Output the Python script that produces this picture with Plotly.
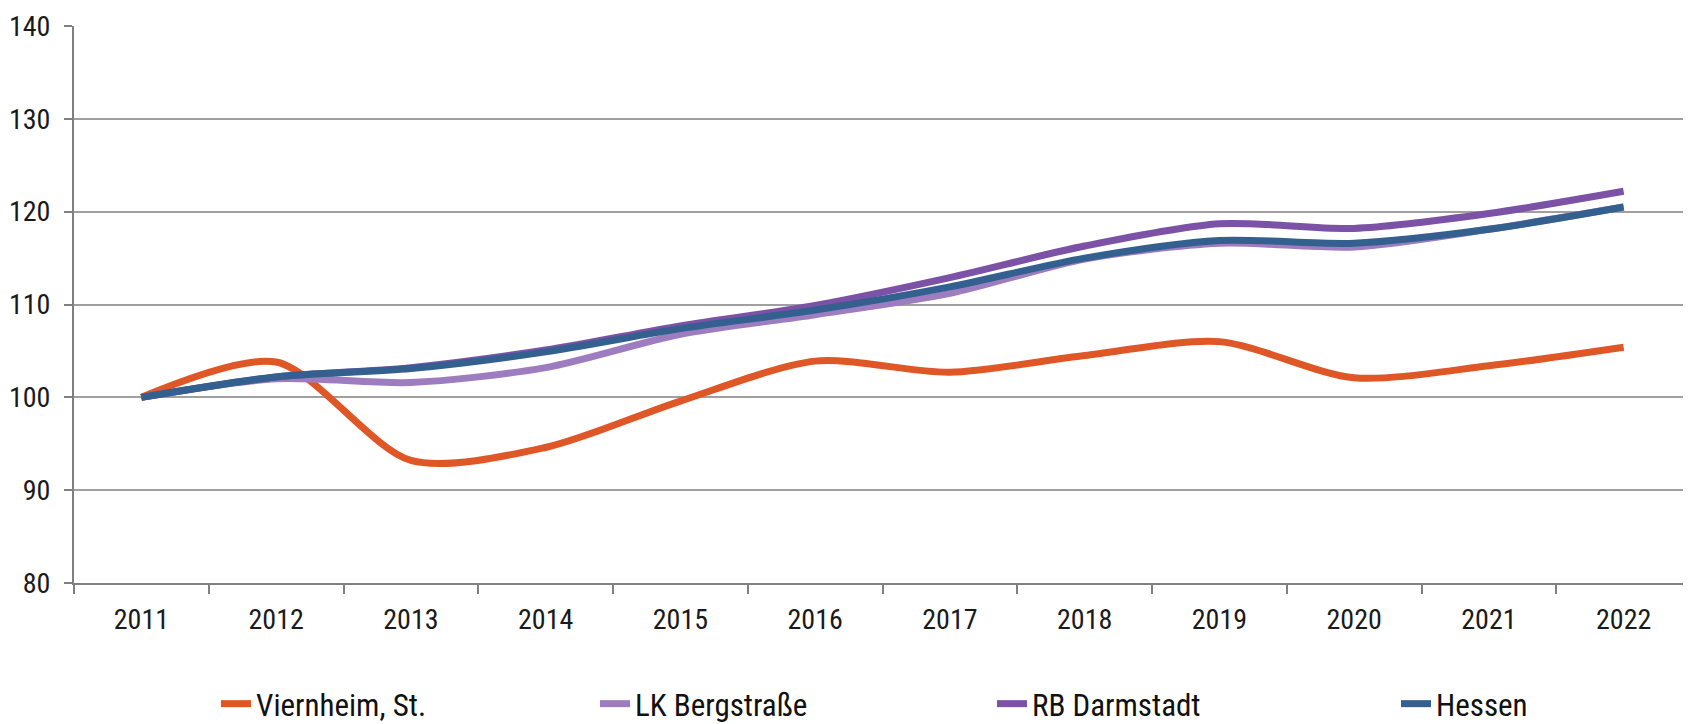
import plotly.graph_objects as go

years = ["2011", "2012", "2013", "2014", "2015", "2016", "2017", "2018", "2019", "2020", "2021", "2022"]
viernheim = [100.0, 103.8, 93.2, 94.6, 99.6, 103.9, 102.7, 104.5, 106.0, 102.1, 103.4, 105.4]
lk_bergstrasse = [100.0, 102.0, 101.6, 103.2, 106.8, 108.9, 111.2, 114.9, 116.6, 116.2, 118.1, 120.5]
rb_darmstadt = [100.0, 102.2, 103.2, 105.1, 107.7, 109.9, 112.9, 116.3, 118.7, 118.2, 119.8, 122.2]
hessen = [100.0, 102.2, 103.1, 104.9, 107.4, 109.4, 111.9, 115.0, 116.9, 116.6, 118.1, 120.5]

series_names = ["Viernheim, St.", "LK Bergstraße", "RB Darmstadt", "Hessen"]
series_values = [viernheim, lk_bergstrasse, rb_darmstadt, hessen]
colors = ["#DF5726", "#9D7DBF", "#7B52A6", "#34608F"]

y_ticks = [80, 90, 100, 110, 120, 130, 140]

FONT = "Liberation Sans Narrow, Arial Narrow, Roboto Condensed, Liberation Sans, Arial, sans-serif"

W, H = 1683, 716  # page body has an 8px margin

legend_ids = ["legend", "legend2", "legend3", "legend4"]
legend_x_px = [208, 587, 984, 1388]

fig = go.Figure()
for name, vals, col, lid in zip(series_names, series_values, colors, legend_ids):
    fig.add_trace(go.Scatter(
        x=years, y=vals, name=name, mode="lines", legend=lid,
        line=dict(color=col, width=7, shape="spline", smoothing=0.8),
    ))

legend_common = dict(
    orientation="h", xref="container", yref="container",
    xanchor="left", y=1 - 696 / H, yanchor="middle",
    font=dict(family=FONT, size=31, color="#111111"),
    itemwidth=30, bgcolor="rgba(0,0,0,0)",
)

layout_legends = {}
for lid, xp in zip(legend_ids, legend_x_px):
    layout_legends[lid] = dict(legend_common, x=xp / W)

fig.update_layout(
    width=W, height=H,
    margin=dict(l=66, r=0, t=18, b=141),
    paper_bgcolor="white", plot_bgcolor="white",
    font=dict(family=FONT, size=28, color="#1a1a1a"),
    showlegend=True,
    xaxis=dict(
        type="category", range=[-0.5, 11.5], tickson="boundaries",
        ticks="outside", ticklen=9, tickwidth=2, tickcolor="#808080",
        showline=True, linecolor="#808080", linewidth=2,
        showgrid=False, ticklabelstandoff=10,
        tickfont=dict(family=FONT, size=28, color="#1a1a1a"),
    ),
    yaxis=dict(
        range=[80, 140], tickmode="array", tickvals=y_ticks,
        ticks="outside", ticklen=8, tickwidth=2, tickcolor="#808080",
        showline=True, linecolor="#808080", linewidth=2,
        showgrid=True, gridcolor="#A0A0A0", gridwidth=1.6,
        zeroline=False, ticklabelstandoff=8,
        tickfont=dict(family=FONT, size=28, color="#1a1a1a"),
    ),
    **layout_legends,
)

fig.write_html("out.html")
